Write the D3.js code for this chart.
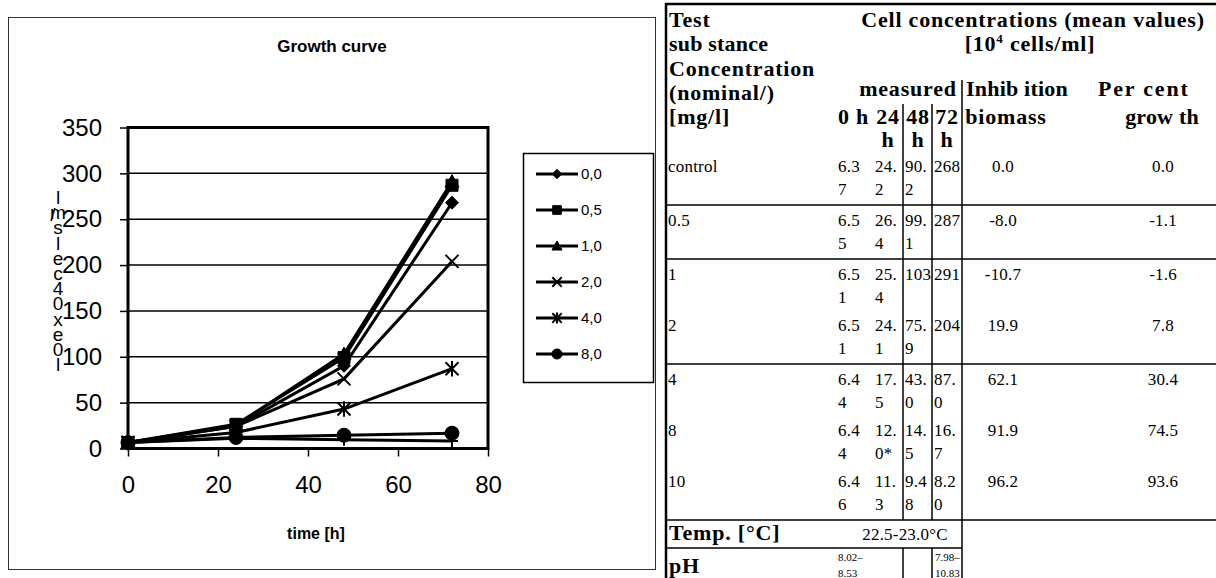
<!DOCTYPE html>
<html>
<head>
<meta charset="utf-8">
<script src="https://cdn.jsdelivr.net/npm/d3@7"></script>
<style>
  body { margin: 0; background: #fff; }
  svg { display: block; }
</style>
</head>
<body>
<script>
// ---- data ----
const times = [0, 24, 48, 72];
const legendNames = ["0,0", "0,5", "1,0", "2,0", "4,0", "8,0"];
const markers = ["diamond", "square", "triangle", "x", "star", "circle", "plus"];
const yTicks = [0, 50, 100, 150, 200, 250, 300, 350];
const xTicks = [0, 20, 40, 60, 80];
const yLabelChars = ["l", "m", "s", "l", "e", "c", "4", "0", "x", "e", "0", "l"];

// table columns (as printed)
const rowLabels = ["control", "0.5", "1", "2", "4", "8", "10"];
const cells0h = ["6.37", "6.55", "6.51", "6.51", "6.44", "6.44", "6.46"];
const cells24h = ["24.2", "26.4", "25.4", "24.1", "17.5", "12.0*", "11.3"];
const cells48h = ["90.2", "99.1", "103", "75.9", "43.0", "14.5", "9.48"];
const cells72h = ["268", "287", "291", "204", "87.0", "16.7", "8.20"];
const inhibBiomass = ["0.0", "-8.0", "-10.7", "19.9", "62.1", "91.9", "96.2"];
const percentGrowth = ["0.0", "-1.1", "-1.6", "7.8", "30.4", "74.5", "93.6"];
const sepAfter = [true, true, false, true, false, false, true];

// chart series from the table (last one, 10 mg/l, has no legend entry)
const series = rowLabels.map((d, i) =>
  [cells0h[i], cells24h[i], cells48h[i], cells72h[i]].map((v) => parseFloat(v))
);

const w = 1216;
const h = 578;

const svg = d3
  .select("body")
  .append("svg")
  .attr("width", w)
  .attr("height", h);

// ---- chart ----
const sans = "Arial, 'Liberation Sans', Helvetica, sans-serif";

svg
  .append("rect")
  .attr("x", 8.5)
  .attr("y", 17.5)
  .attr("width", 647)
  .attr("height", 552)
  .attr("fill", "#fff")
  .attr("stroke", "#333");

svg
  .append("text")
  .text("Growth curve")
  .attr("x", 332)
  .attr("y", 52)
  .attr("text-anchor", "middle")
  .attr("font-family", sans)
  .attr("font-size", 17)
  .attr("font-weight", "bold");

const xScale = d3.scaleLinear().domain([0, 80]).range([128, 488]);
const yScale = d3.scaleLinear().domain([0, 350]).range([448.5, 127.5]);

// gridlines
svg
  .append("g")
  .selectAll("line")
  .data(yTicks.filter((d) => d > 0 && d < 350))
  .enter()
  .append("line")
  .attr("x1", xScale(0))
  .attr("x2", xScale(80))
  .attr("y1", (d) => yScale(d))
  .attr("y2", (d) => yScale(d))
  .attr("stroke", "#000")
  .attr("stroke-width", 1.5);

const yAxis = d3.axisLeft(yScale).tickValues(yTicks).tickSize(8).tickPadding(18);
const xAxis = d3.axisBottom(xScale).tickValues(xTicks).tickSize(8).tickPadding(19);

const gy = svg
  .append("g")
  .attr("transform", `translate(${xScale(0)}, 0)`)
  .call(yAxis);
const gx = svg
  .append("g")
  .attr("transform", `translate(0, ${yScale(0)})`)
  .call(xAxis);

[gy, gx].forEach((g) => {
  g.select(".domain").remove();
  g.selectAll("line").attr("stroke", "#000").attr("stroke-width", 1.5);
  g.selectAll("text")
    .attr("font-family", sans)
    .attr("font-size", 24)
    .attr("fill", "#000");
});

// plot frame
svg
  .append("rect")
  .attr("x", xScale(0))
  .attr("y", yScale(350))
  .attr("width", xScale(80) - xScale(0))
  .attr("height", yScale(0) - yScale(350))
  .attr("fill", "none")
  .attr("stroke", "#000")
  .attr("stroke-width", 3);

// axis titles
svg
  .append("text")
  .text("time [h]")
  .attr("x", 316)
  .attr("y", 539)
  .attr("text-anchor", "middle")
  .attr("font-family", sans)
  .attr("font-size", 16)
  .attr("font-weight", "bold");

// stacked y title, glyphs overlap like in the source
const ylab = svg.append("g").attr("font-family", sans).attr("font-size", 19);
ylab
  .selectAll("text")
  .data(yLabelChars)
  .enter()
  .append("text")
  .text((d) => d)
  .attr("x", 58)
  .attr("y", (d, i) => 204 + i * 15.2)
  .attr("text-anchor", "middle");
ylab.append("text").text("/").attr("x", 53).attr("y", 221).attr("text-anchor", "middle");

// markers
const markerPath = {
  diamond: (s) => `M0,${-s}L${s},0L0,${s}L${-s},0Z`,
  square: (s) => `M${-s},${-s}H${s}V${s}H${-s}Z`,
  triangle: (s) => `M0,${-s}L${s},${s * 0.8}L${-s},${s * 0.8}Z`,
  x: (s) => `M${-s},${-s}L${s},${s}M${-s},${s}L${s},${-s}`,
  star: (s) =>
    `M${-s},${-s}L${s},${s}M${-s},${s}L${s},${-s}M0,${-s * 1.2}V${s * 1.2}`,
  circle: (s) => `M${s},0A${s},${s} 0 1,1 ${-s},0A${s},${s} 0 1,1 ${s},0Z`,
  plus: (s) => `M${-s},0H${s}M0,${-s}V${s}`,
};
const isFilled = (m) => ["diamond", "square", "triangle", "circle"].includes(m);
const markerSize = { diamond: 6.5, square: 6, triangle: 7, x: 6.5, star: 6.5, circle: 7, plus: 6 };

const line = d3
  .line()
  .x((d, i) => xScale(times[i]))
  .y((d) => yScale(d));

const plot = svg.append("g");
series.forEach((vals) => {
  plot
    .append("path")
    .datum(vals)
    .attr("d", line)
    .attr("fill", "none")
    .attr("stroke", "#000")
    .attr("stroke-width", 3);
});
series.forEach((vals, s) => {
  const m = markers[s];
  plot
    .append("g")
    .selectAll("path")
    .data(vals)
    .enter()
    .append("path")
    .attr("transform", (d, i) => `translate(${xScale(times[i])}, ${yScale(d)})`)
    .attr("d", markerPath[m](markerSize[m]))
    .attr("fill", isFilled(m) ? "#000" : "none")
    .attr("stroke", "#000")
    .attr("stroke-width", isFilled(m) ? 1 : 2);
});

// legend
const legend = svg.append("g");
legend
  .append("rect")
  .attr("x", 523.5)
  .attr("y", 153.5)
  .attr("width", 130)
  .attr("height", 229)
  .attr("fill", "#fff")
  .attr("stroke", "#000")
  .attr("stroke-width", 1.5);

const items = legend
  .selectAll("g.item")
  .data(legendNames)
  .enter()
  .append("g")
  .attr("class", "item")
  .attr("transform", (d, i) => `translate(0, ${174 + i * 36})`);

items
  .append("line")
  .attr("x1", 536)
  .attr("x2", 578)
  .attr("stroke", "#000")
  .attr("stroke-width", 3);
items
  .append("path")
  .attr("transform", "translate(557, 0)")
  .attr("d", (d, i) => markerPath[markers[i]](markerSize[markers[i]] * 0.72))
  .attr("fill", (d, i) => (isFilled(markers[i]) ? "#000" : "none"))
  .attr("stroke", "#000")
  .attr("stroke-width", (d, i) => (isFilled(markers[i]) ? 1 : 2));
items
  .append("text")
  .text((d) => d)
  .attr("x", 581)
  .attr("dy", "0.36em")
  .attr("font-family", sans)
  .attr("font-size", 15);

// ---- table ----
const serif = "'Liberation Serif', 'Times New Roman', serif";
const tbl = svg.append("g");

function put(x, y, str, bold, anchor, size) {
  return tbl
    .append("text")
    .attr("x", x)
    .attr("y", y)
    .text(str)
    .attr("font-family", serif)
    .attr("font-size", size || (bold ? 22 : 17))
    .attr("font-weight", bold ? "bold" : "normal")
    .attr("letter-spacing", bold ? 0.8 : 0.2)
    .attr("text-anchor", anchor || "start");
}
function hline(x1, x2, y, sw) {
  tbl.append("line").attr("x1", x1).attr("x2", x2).attr("y1", y).attr("y2", y)
    .attr("stroke", "#000").attr("stroke-width", sw || 1.5);
}
function vline(x, y1, y2, sw) {
  tbl.append("line").attr("x1", x).attr("x2", x).attr("y1", y1).attr("y2", y2)
    .attr("stroke", "#000").attr("stroke-width", sw || 1.5);
}

const colX = { label: 668, c0: 838, c24: 875, l1: 903, c48: 905, l2: 932, c72: 934, l3: 962, bio: 1003, gro: 1163 };

// borders
hline(665, 1216, 4, 2.5);
vline(666, 3, 578, 2.5);

// header
put(669, 27, "Test", true);
put(1033, 27, "Cell concentrations (mean values)", true, "middle");
put(669, 51, "sub stance", true).attr("letter-spacing", 0.2);
const unit = put(1030, 51, "[10", true, "middle");
unit.append("tspan").text("4").attr("font-size", 13).attr("dy", -8);
unit.append("tspan").text(" cells/ml]").attr("dy", 8);
put(669, 76, "Concentration", true);
put(669, 100, "(nominal/)", true);
put(908, 96, "measured", true, "middle");
put(966, 96, "Inhib ition", true).attr("letter-spacing", 0.2);
put(1098, 96, "Per cent", true).attr("letter-spacing", 1.8);
put(669, 124, "[mg/l]", true);
put(838, 124, "0 h", true);
[colX.c24, colX.c48, colX.c72].forEach((x, i) => {
  put(x + 13, 124, ["24", "48", "72"][i], true, "middle");
  put(x + 13, 147, "h", true, "middle");
});
put(1006, 124, "biomass", true, "middle");
put(1162, 124, "grow th", true, "middle").attr("letter-spacing", 0.2);

// body rows
const gapSep = 54;
const gapRow = 51;
let y = 172;
let lastSep = 0;
const split = (s) => [s.slice(0, 3), s.slice(3)];
rowLabels.forEach((lab, i) => {
  put(colX.label, y, lab);
  [[cells0h, colX.c0], [cells24h, colX.c24], [cells48h, colX.c48], [cells72h, colX.c72]].forEach(
    ([arr, x]) => {
      const [a, b] = split(arr[i]);
      put(x, y, a);
      if (b) put(x, y + 23, b);
    }
  );
  put(colX.bio, y, inhibBiomass[i], false, "middle");
  put(colX.gro, y, percentGrowth[i], false, "middle");
  if (sepAfter[i]) {
    lastSep = y + 33;
    hline(665, 1216, lastSep);
  }
  y += sepAfter[i] ? gapSep : gapRow;
});
const tempTop = lastSep;

vline(colX.l3, 80, 578);
vline(colX.l1, 104, tempTop);
vline(colX.l2, 104, tempTop);

// temperature and pH
put(669, tempTop + 20, "Temp. [°C]", true);
put(905, tempTop + 20, "22.5-23.0°C", false, "middle");
hline(665, colX.l3, tempTop + 28);
const phTop = tempTop + 28;
put(669, phTop + 25, "pH", true);
put(838, phTop + 13, "8.02–", false, "start", 11).attr("letter-spacing", 0);
put(838, phTop + 29, "8.53", false, "start", 11).attr("letter-spacing", 0);
put(935, phTop + 13, "7.98–", false, "start", 11).attr("letter-spacing", 0);
put(935, phTop + 29, "10.83", false, "start", 11).attr("letter-spacing", 0);
vline(colX.l1, phTop, 578);
vline(colX.l2, phTop, 578);
</script>
</body>
</html>
